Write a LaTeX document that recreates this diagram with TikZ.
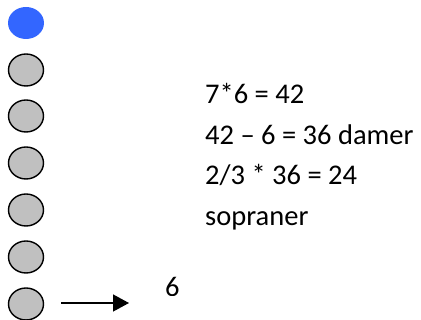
\documentclass[tikz,border=0pt]{standalone}
\usepackage{fontspec}
\setmainfont{Carlito}
\usetikzlibrary{arrows.meta}
\definecolor{dotblue}{HTML}{3366FF}
\definecolor{dotgray}{HTML}{C0C0C0}
\tikzset{
  dot/.style={ellipse, minimum width=35pt, minimum height=32pt, inner sep=0pt, draw=black, line width=1.4pt, fill=dotgray},
  bluedot/.style={ellipse, minimum width=36pt, minimum height=32pt, inner sep=0pt, fill=dotblue},
  txt/.style={anchor=base west, inner sep=0pt, font=\fontsize{28.5}{34}\selectfont},
}
\usetikzlibrary{shapes.geometric}
\begin{document}
\begin{tikzpicture}[x=1pt,y=-1pt]
\useasboundingbox (0,0) rectangle (421,320);
\node[bluedot] (c1) at (26,23) {};
\node[dot] (c2) at (26,70) {};
\node[dot] (c3) at (26,116) {};
\node[dot] (c4) at (26,163) {};
\node[dot] (c5) at (26,210) {};
\node[dot] (c6) at (26,257) {};
\node[dot] (c7) at (26,304) {};
\node[txt] (l1) at (205,104) {7*6 = 42};
\node[txt] (l2) at (205,144.5) {42 – 6 = 36 damer};
\node[txt] (l3) at (205,185) {2/3 * 36 = 24};
\node[txt] (l4) at (205,225.5) {sopraner};
\begin{scope}
\clip (150,270) rectangle (200,295.5);
\node[txt] (six) at (165,296.5) {6};
\end{scope}
\coordinate (a0) at (61,303);
\coordinate (a1) at (129,303);
\draw[line width=1.4pt, -{Triangle[length=16pt,width=17pt]}] (a0) -- (a1);
\end{tikzpicture}
\end{document}
